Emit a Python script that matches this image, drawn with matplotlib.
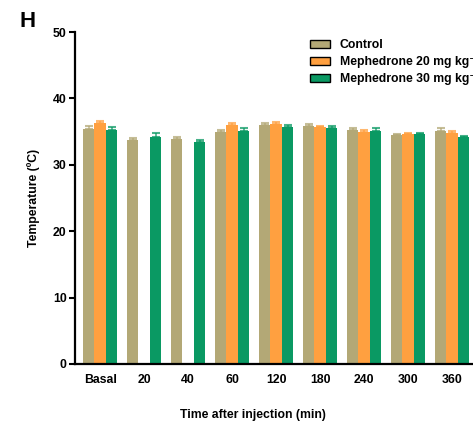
import matplotlib
matplotlib.use("Agg")
import matplotlib.pyplot as plt
import numpy as np

plt.rcParams['font.family'] = ['Liberation Sans', 'DejaVu Sans']
plt.rcParams['font.weight'] = 'bold'

timepoints = ["Basal", "20", "40", "60", "120", "180", "240", "300", "360"]
control = [35.4, 33.7, 33.9, 34.9, 36.0, 35.8, 35.2, 34.5, 35.1]
control_err = [0.5, 0.3, 0.3, 0.4, 0.3, 0.3, 0.3, 0.2, 0.4]
meph20 = [36.3, np.nan, np.nan, 36.0, 36.2, 35.7, 34.9, 34.6, 34.8]
meph20_err = [0.3, np.nan, np.nan, 0.3, 0.2, 0.2, 0.3, 0.2, 0.3]
meph30 = [35.2, 34.2, 33.4, 35.1, 35.7, 35.5, 35.1, 34.6, 34.2]
meph30_err = [0.5, 0.6, 0.3, 0.4, 0.3, 0.4, 0.4, 0.2, 0.2]

series = [
    ("Control", control, control_err, "#B3A876"),
    ("Mephedrone 20 mg kg\u207b\u00b9", meph20, meph20_err, "#FFA040"),
    ("Mephedrone 30 mg kg\u207b\u00b9", meph30, meph30_err, "#0A9963"),
]

FS = 8.8

fig = plt.figure(figsize=(4.73, 4.30), dpi=100)
ax = fig.add_axes([0.1586, 0.1535, 0.855, 0.772])

x = np.arange(len(timepoints))
w = 0.26
for i, (name, vals, errs, col) in enumerate(series):
    pos = x + (i - 1) * w
    ax.bar(pos, vals, width=w, color=col, edgecolor='none', label=name, zorder=2)
    ax.errorbar(pos, vals, yerr=[np.zeros(len(vals)), errs], fmt='none',
                ecolor=col, elinewidth=1.2, capsize=3, capthick=1.5,
                alpha=0.75, zorder=3)

ax.set_xlim(-0.57, 8.62)
ax.set_ylim(0, 50)
ax.set_yticks([0, 10, 20, 30, 40, 50])
ax.set_xticks(x)
ax.set_xticklabels(timepoints)
ax.tick_params(axis='x', length=0, labelsize=FS, pad=7)
ax.tick_params(axis='y', length=4, width=1.5, labelsize=FS, pad=2)
for t in ax.get_xticklabels() + ax.get_yticklabels():
    t.set_fontweight('bold')
for s in ['top', 'right']:
    ax.spines[s].set_visible(False)
for s in ['left', 'bottom']:
    ax.spines[s].set_linewidth(1.6)

ax.set_ylabel("Temperature (ºC)", fontsize=FS, fontweight='bold', labelpad=9)
fig.text(0.535, 0.022, "Time after injection (min)", fontsize=FS,
         fontweight='bold', ha='center', va='bottom')
fig.text(0.042, 0.925, "H", fontsize=16, fontweight='bold', ha='left', va='bottom')

leg = ax.legend(loc='upper left', bbox_to_anchor=(0.553, 1.012), frameon=False,
                prop={'size': FS, 'weight': 'bold'}, handlelength=1.7,
                handleheight=0.6, labelspacing=0.42, handletextpad=0.75)
for h in leg.legend_handles:
    h.set_edgecolor('black')
    h.set_linewidth(1.0)

fig.savefig("out.png", dpi=100)
